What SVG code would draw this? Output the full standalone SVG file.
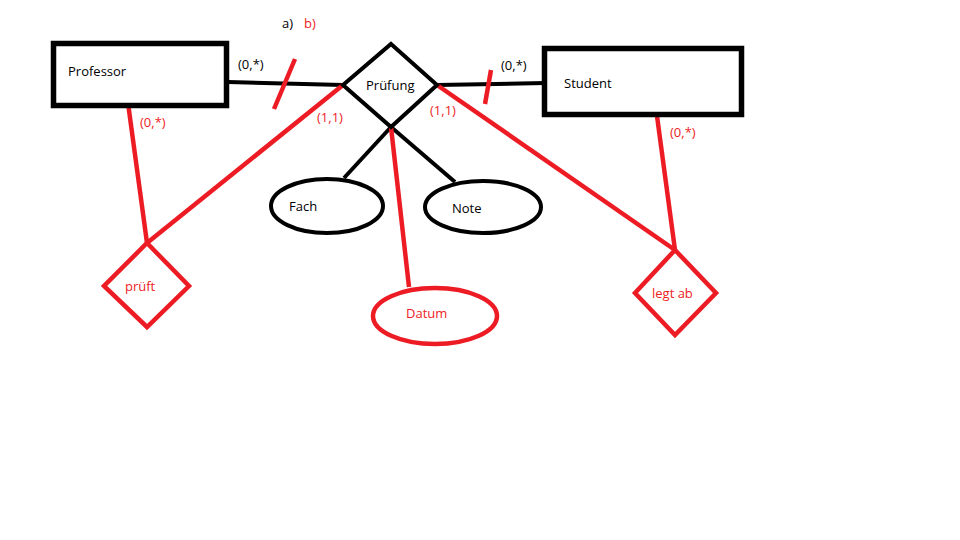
<svg xmlns="http://www.w3.org/2000/svg" width="960" height="540" viewBox="0 0 960 540">
<style>
.k{stroke:#000;fill:none;stroke-width:4}
.r{stroke:#ed1c24;fill:none;stroke-width:4.5}
.box{stroke:#000;fill:#fff;stroke-width:5.5}
text{font-family:"Open Sans","Noto Sans","DejaVu Sans",sans-serif;font-size:13px;dominant-baseline:central}
.tk{fill:#000}
.tr{fill:#ed1c24}
</style>
<rect width="960" height="540" fill="#fff"/>
<g id="connectors">
<line class="k" x1="228" y1="82" x2="343" y2="85"/>
<line class="k" x1="437" y1="85" x2="545" y2="83"/>
<line class="k" x1="391" y1="127" x2="344" y2="178"/>
<line class="k" x1="391" y1="127" x2="455" y2="182"/>
<line class="r" x1="295" y1="59" x2="274" y2="109"/>
<line class="r" x1="491" y1="70" x2="485" y2="104"/>
<line class="r" x1="128" y1="103" x2="147" y2="243"/>
<line class="r" x1="343" y1="85" x2="147" y2="243"/>
<line class="r" x1="391" y1="127" x2="409" y2="287"/>
<line class="r" x1="437" y1="85" x2="675" y2="250"/>
<line class="r" x1="657" y1="116" x2="675" y2="250"/>
</g>
<g id="labels">
<text class="tk" x="282" y="23">a)</text>
<text class="tr" x="304" y="23">b)</text>
<text class="tk" x="238" y="64">(0,*)</text>
<text class="tk" x="501" y="65">(0,*)</text>
<text class="tr" x="140" y="122">(0,*)</text>
<text class="tr" x="317" y="117">(1,1)</text>
<text class="tr" x="430" y="110">(1,1)</text>
<text class="tr" x="670" y="132">(0,*)</text>
</g>
<g id="professor">
<rect class="box" x="53.5" y="43.5" width="173" height="62"/>
<text class="tk" x="68" y="71">Professor</text>
</g>
<g id="student">
<rect class="box" x="544.5" y="48.5" width="197" height="66"/>
<text class="tk" x="564" y="83">Student</text>
</g>
<g id="pruefung">
<polygon class="k" fill="#fff" points="391,44 437,85 391,127 343,85"/>
<text class="tk" x="366" y="85">Prüfung</text>
</g>
<g id="fach">
<ellipse class="k" cx="327" cy="206" rx="56" ry="27"/>
<text class="tk" x="289" y="206">Fach</text>
</g>
<g id="note">
<ellipse class="k" cx="483" cy="207" rx="58" ry="26"/>
<text class="tk" x="452" y="208">Note</text>
</g>
<g id="datum">
<ellipse class="r" cx="435" cy="316" rx="62" ry="28"/>
<text class="tr" x="406" y="313">Datum</text>
</g>
<g id="prueft">
<polygon class="r" points="147,243 189,286 147,327 104,286"/>
<text class="tr" x="125" y="286">prüft</text>
</g>
<g id="legtab">
<polygon class="r" points="675,250 716,293 675,335 635,293"/>
<text class="tr" x="652" y="293">legt ab</text>
</g>
</svg>
